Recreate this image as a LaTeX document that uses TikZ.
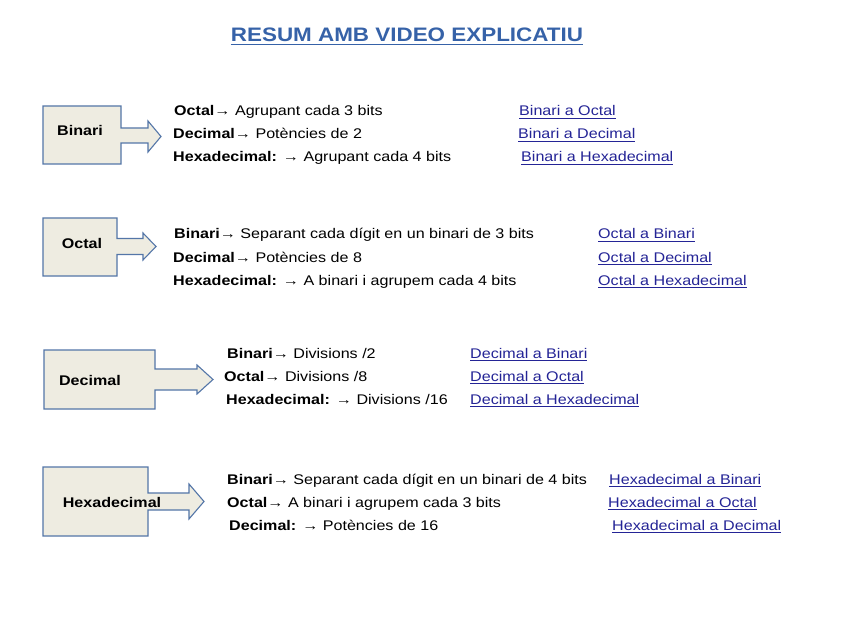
\documentclass[tikz,border=0pt]{standalone}
\usepackage{fontspec}
\setmainfont{Liberation Sans}[FakeStretch=1.15]
\newcommand{\myul}[1]{\leavevmode\vtop{\hbox{#1}\kern1.6pt\hrule height 0.9pt}}
\definecolor{titleblue}{RGB}{54,98,168}
\definecolor{linkblue}{RGB}{36,36,150}
\definecolor{boxfill}{RGB}{238,236,225}
\definecolor{boxline}{RGB}{84,118,168}
\begin{document}
\begin{tikzpicture}[x=1pt,y=-1pt,
  row/.style={anchor=base west, inner sep=0, font=\fontsize{14}{16}\selectfont},
  lnk/.style={row, text=linkblue},
  lbl/.style={anchor=base, inner sep=0, font=\bfseries\fontsize{14}{16}\selectfont},
  callout/.style={draw=boxline, fill=boxfill, line width=1.1pt, line join=miter}]
\useasboundingbox (0,0) rectangle (848,636);
\fill[white] (0,0) rectangle (848,636);

% title
\node[anchor=base, inner sep=0, text=titleblue, font=\bfseries\fontsize{19.5}{22}\selectfont] (title) at (407,42) {\myul{RESUM AMB VIDEO EXPLICATIU}};

% Binari
\draw[callout] (43,106) -- (121,106) -- (121,128) -- (148,128) -- (148,121) -- (161,136.5) -- (148,152) -- (148,143) -- (121,143) -- (121,164) -- (43,164) -- cycle;
\node[lbl] (binari) at (80,136) {Binari};
\node[row] (b1) at (174,116) {\textbf{Octal}→ Agrupant cada 3 bits};
\node[row] (b2) at (173,139) {\textbf{Decimal}→ Potències de 2};
\node[row] (b3) at (173,162) {\textbf{Hexadecimal:} → Agrupant cada 4 bits};
\node[lnk] (lb1) at (519,116) {\myul{Binari a Octal}};
\node[lnk] (lb2) at (518,139) {\myul{Binari a Decimal}};
\node[lnk] (lb3) at (521,162) {\myul{Binari a Hexadecimal}};

% Octal
\draw[callout] (43,218) -- (117,218) -- (117,238.5) -- (143,238.5) -- (143,233) -- (156,246.5) -- (143,260) -- (143,254.5) -- (117,254.5) -- (117,276) -- (43,276) -- cycle;
\node[lbl] (octal) at (82,248) {Octal};
\node[row] (o1) at (174,239) {\textbf{Binari}→ Separant cada dígit en un binari de 3 bits};
\node[row] (o2) at (173,262) {\textbf{Decimal}→ Potències de 8};
\node[row] (o3) at (173,285) {\textbf{Hexadecimal:} → A binari i agrupem cada 4 bits};
\node[lnk] (lo1) at (598,239) {\myul{Octal a Binari}};
\node[lnk] (lo2) at (598,262) {\myul{Octal a Decimal}};
\node[lnk] (lo3) at (598,285) {\myul{Octal a Hexadecimal}};

% Decimal
\draw[callout] (44,350) -- (155,350) -- (155,369) -- (197,369) -- (197,365) -- (213,379.5) -- (197,394) -- (197,390) -- (155,390) -- (155,409) -- (44,409) -- cycle;
\node[lbl] (decimal) at (90,385) {Decimal};
\node[row] (d1) at (227,358) {\textbf{Binari}→ Divisions /2};
\node[row] (d2) at (224,381) {\textbf{Octal}→ Divisions /8};
\node[row] (d3) at (226,404) {\textbf{Hexadecimal:} → Divisions /16};
\node[lnk] (ld1) at (470,358) {\myul{Decimal a Binari}};
\node[lnk] (ld2) at (470,381) {\myul{Decimal a Octal}};
\node[lnk] (ld3) at (470,404) {\myul{Decimal a Hexadecimal}};

% Hexadecimal
\draw[callout] (43,467) -- (148,467) -- (148,493) -- (189,493) -- (189,484) -- (204,501.5) -- (189,519) -- (189,510) -- (148,510) -- (148,536) -- (43,536) -- cycle;
\node[lbl] (hexa) at (112,507) {Hexadecimal};
\node[row] (h1) at (227,484) {\textbf{Binari}→ Separant cada dígit en un binari de 4 bits};
\node[row] (h2) at (227,507) {\textbf{Octal}→ A binari i agrupem cada 3 bits};
\node[row] (h3) at (229,530) {\textbf{Decimal:} → Potències de 16};
\node[lnk] (lh1) at (609,484) {\myul{Hexadecimal a Binari}};
\node[lnk] (lh2) at (608,507) {\myul{Hexadecimal a Octal}};
\node[lnk] (lh3) at (612,530) {\myul{Hexadecimal a Decimal}};
\end{tikzpicture}
\end{document}
